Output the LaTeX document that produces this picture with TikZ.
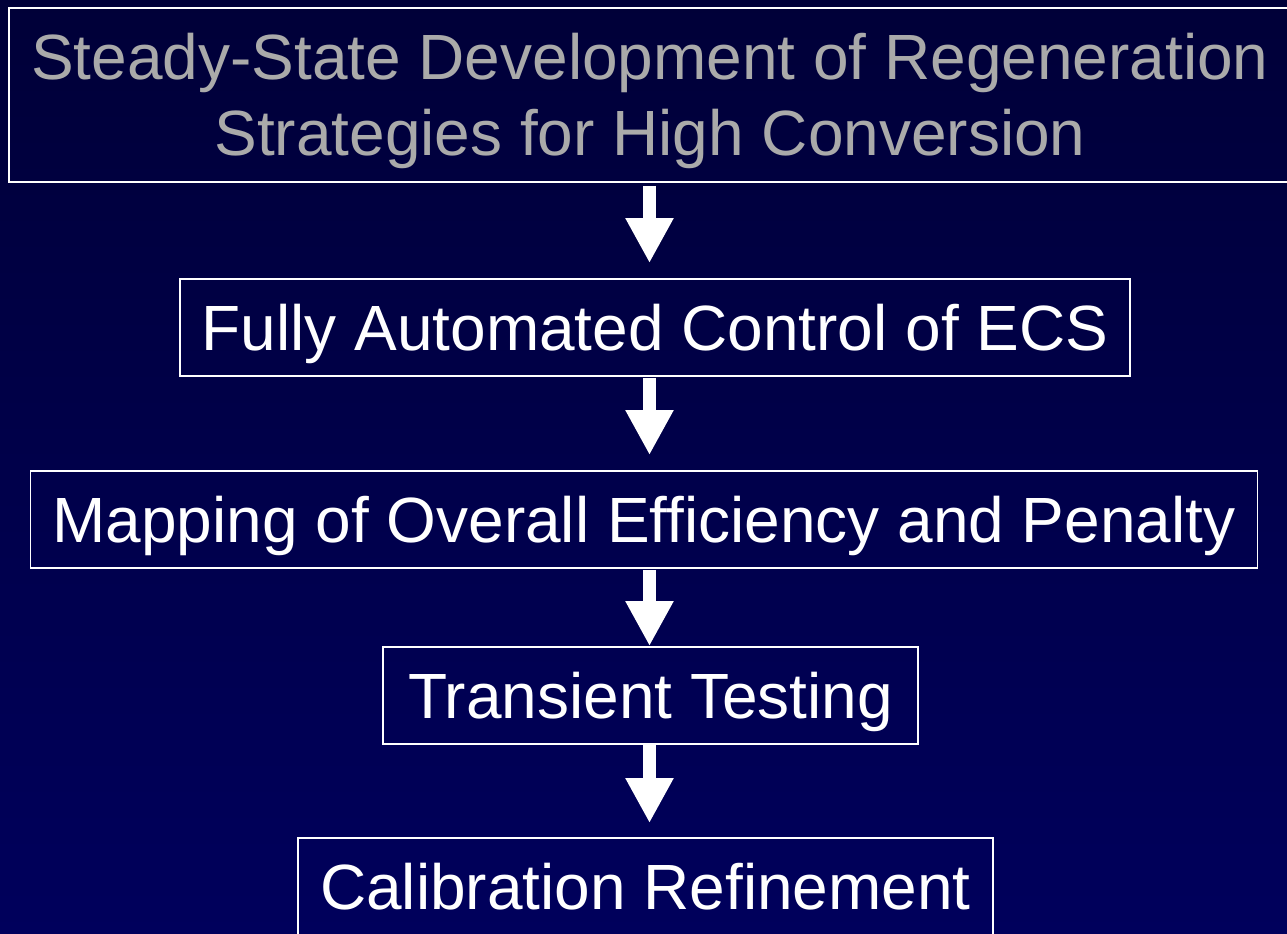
\documentclass[tikz,border=0pt]{standalone}
\usepackage{fontspec}
\setmainfont{Liberation Sans}
\usetikzlibrary{positioning, arrows.meta}
\definecolor{bgtop}{RGB}{0,0,56}
\definecolor{bgbottom}{RGB}{0,0,92}
\definecolor{titlegrey}{RGB}{170,170,170}

\begin{document}
\begin{tikzpicture}[
mynode/.style={rectangle,
  draw=white,
  line width=0.035cm,
  text=white,
  font=\fontsize{36.4}{43.2}\selectfont,
  inner xsep=0.44cm,
  inner ysep=0cm,
  text height=0.92cm,
  text depth=0cm,
  minimum height=1.94cm
},
myarrow/.style={white,
  line width=0.26cm,
  -{Triangle[width=0.9cm,length=0.9cm]}
}
]
\shade[top color=bgtop, bottom color=bgbottom] (0,0) rectangle (25.74,18.68);
\useasboundingbox (0,0) rectangle (25.74,18.68);
\clip (0,0) rectangle (25.74,18.68);
\coordinate (col) at (12.99,0);

\node[mynode, text=titlegrey, align=flush center, text width=25.64cm, inner xsep=0cm,
  text depth=1.52cm, minimum height=3.48cm] (top) at (13.0,16.78)
    {Steady-State Development of Regeneration\\Strategies for High Conversion};
\node[mynode, below=1.905cm of top, xshift=0.1cm] (auto)
    {Fully Automated Control of ECS};
\node[mynode, below=1.865cm of auto, xshift=-0.22cm] (mapping)
    {Mapping of Overall Efficiency and Penalty};
\node[mynode, below=1.545cm of mapping, xshift=0.13cm, minimum width=10.7cm] (transient)
    {Transient Testing};
\node[mynode, below=1.845cm of transient, xshift=-0.1cm] (calib)
    {Calibration Refinement};

\draw[myarrow, shorten <=0.06cm, shorten >=0.3cm] (top.south -| col) -- (auto.north -| col);
\draw[myarrow, shorten <=0.02cm, shorten >=0.3cm] (auto.south -| col) -- (mapping.north -| col);
\draw[myarrow, shorten <=0.02cm] (mapping.south -| col) -- (transient.north -| col);
\draw[myarrow, shorten >=0.28cm] (transient.south -| col) -- (calib.north -| col);
\end{tikzpicture}
\end{document}
